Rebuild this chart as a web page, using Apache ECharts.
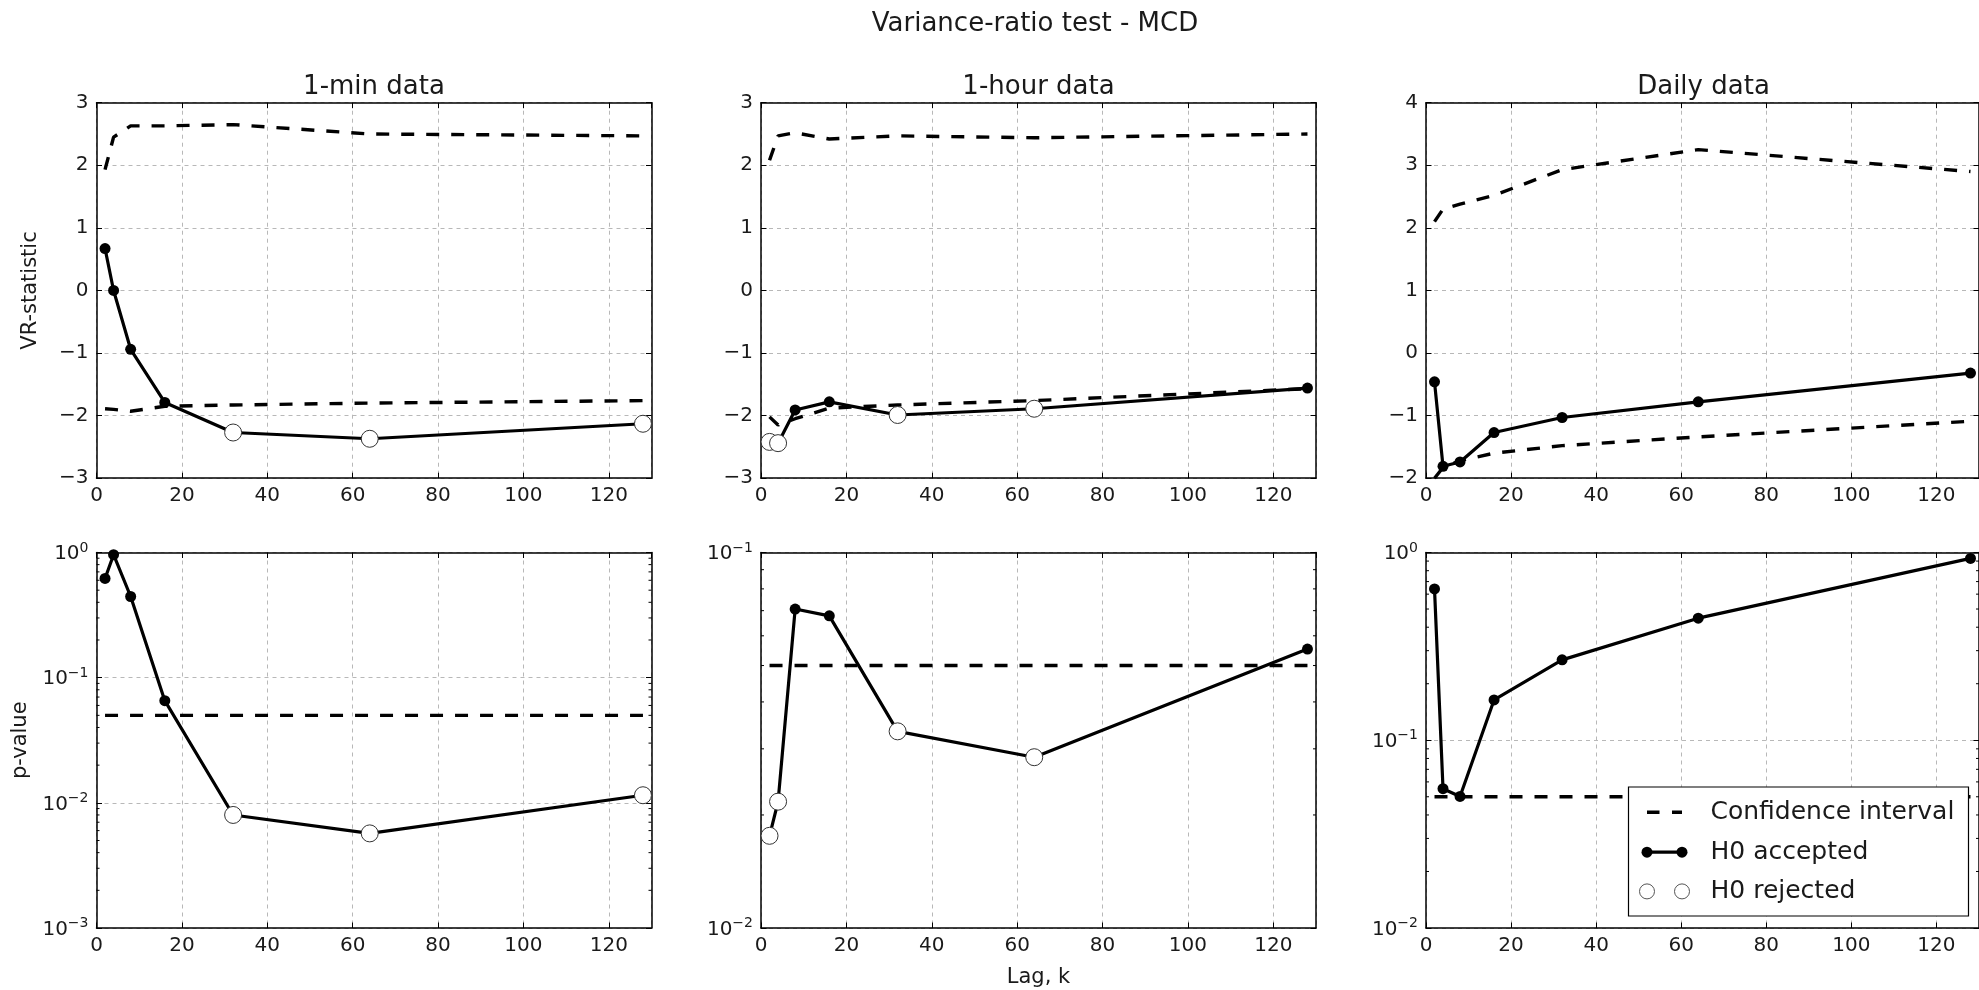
<!DOCTYPE html>
<html>
<head>
<meta charset="utf-8">
<script src="https://cdn.jsdelivr.net/npm/echarts@6/dist/echarts.min.js"></script>
<style>
html,body{margin:0;padding:0;background:#fff;}
#chart{width:1979px;height:990px;}
</style>
</head>
<body>
<div id="chart"></div>
<script>
// ---------------- data ----------------
const suptitle = 'Variance-ratio test - MCD';
const panelTitles = ['1-min data', '1-hour data', 'Daily data'];
const lags = [2, 4, 8, 16, 32, 64, 128];

// VR statistic
const vr1Min  = [0.67, 0.0, -0.94, -1.79, -2.27, -2.37, -2.13];
const vr1Hour = [-2.42, -2.44, -1.91, -1.78, -1.99, -1.89, -1.56];
const vrDaily = [-0.46, -1.81, -1.74, -1.27, -1.03, -0.78, -0.32];

// confidence interval bounds of the VR statistic
const ciUp1Min  = [1.93, 2.45, 2.63, 2.63, 2.65, 2.50, 2.47];
const ciLo1Min  = [-1.89, -1.90, -1.93, -1.85, -1.83, -1.80, -1.76];
const ciUp1Hour = [2.08, 2.47, 2.52, 2.42, 2.47, 2.44, 2.50];
const ciLo1Hour = [-2.02, -2.15, -2.05, -1.88, -1.83, -1.76, -1.57];
const ciUpDaily = [2.10, 2.30, 2.38, 2.52, 2.93, 3.25, 2.90];
const ciLoDaily = [-2.00, -1.83, -1.72, -1.60, -1.48, -1.34, -1.09];

// p-values
const p1Min  = [0.62, 0.96, 0.445, 0.0655, 0.0080, 0.0057, 0.0115];
const p1Hour = [0.0176, 0.0217, 0.0707, 0.0678, 0.0334, 0.0285, 0.0553];
const pDaily = [0.64, 0.0552, 0.0502, 0.164, 0.268, 0.447, 0.93];
const pThreshold = 0.05;

// H0 accepted (filled marker) / rejected (open marker)
const accepted1Min  = [true, true, true, true, false, false, false];
const accepted1Hour = [false, false, true, true, false, false, true];
const acceptedDaily = [true, true, true, true, true, true, true];

// axes
const xMin = 0, xMax = 130, xInterval = 20;
const vrRanges = [[-3, 3], [-3, 3], [-2, 4]];
const pRanges = [[0.001, 1], [0.01, 0.1], [0.01, 1]];
const minorMantissas = [2, 3, 4, 5, 6, 7, 8, 9];

const yNameTop = 'VR-statistic';
const yNameBottom = 'p-value';
const xName = 'Lag, k';
const legendLabels = ['Confidence interval', 'H0 accepted', 'H0 rejected'];

// ---------------- layout & style ----------------
const FONT = 'DejaVu Sans';
const TXT = '#1a1a1a';
const colLeft = [96.5, 761, 1426];
const rowTop = [102.7, 552.5];
const PW = 555, PH = 375.5;
const gridLine = { color: '#b8b8b8', width: 1, type: [4, 4] };
const spine = { color: '#000', width: 1.5 };
const tickLine = { color: '#000', width: 1 };
const dashCI = [13, 12];
const SOLID_W = 3.2, DASH_W = 3.4;

const panels = [
  { vr: vr1Min, up: ciUp1Min, lo: ciLo1Min, p: p1Min, acc: accepted1Min },
  { vr: vr1Hour, up: ciUp1Hour, lo: ciLo1Hour, p: p1Hour, acc: accepted1Hour },
  { vr: vrDaily, up: ciUpDaily, lo: ciLoDaily, p: pDaily, acc: acceptedDaily }
];

const grids = [], xAxes = [], yAxes = [], series = [];

function sup(v) {
  const e = Math.round(Math.log10(v));
  return '{b|10}{s|' + (e < 0 ? '\u2212' : '') + Math.abs(e) + '}';
}
function minusFmt(v) {
  return (v < 0 ? '\u2212' : '') + Math.abs(v);
}

function addAxes(row, col, isLog, yRange) {
  const gi = grids.length;
  grids.push({ left: colLeft[col], top: rowTop[row], width: PW, height: PH });
  const xi = xAxes.length;
  const isLagAxis = (row === 1 && col === 1);
  xAxes.push({
    type: 'value', gridIndex: gi, position: 'bottom', min: xMin, max: xMax, interval: xInterval,
    axisLine: { show: true, onZero: false, lineStyle: spine },
    axisTick: { show: true, inside: true, length: 5.5, lineStyle: tickLine },
    axisLabel: { show: true, margin: 8, fontSize: 20, fontFamily: FONT, color: TXT, showMaxLabel: false },
    splitLine: { show: true, lineStyle: gridLine },
    name: isLagAxis ? xName : '', nameLocation: 'middle', nameGap: 39,
    nameTextStyle: { fontSize: 21, fontFamily: FONT, color: TXT }
  });
  xAxes.push({
    type: 'value', gridIndex: gi, position: 'top', min: xMin, max: xMax, interval: xInterval,
    axisLine: { show: true, onZero: false, lineStyle: spine },
    axisTick: { show: true, inside: true, length: 5.5, lineStyle: tickLine },
    axisLabel: { show: false }, splitLine: { show: false }
  });
  const yi = yAxes.length;
  const yBase = {
    gridIndex: gi, min: yRange[0], max: yRange[1],
    type: isLog ? 'log' : 'value'
  };
  if (isLog) { yBase.logBase = 10; yBase.interval = 1; } else { yBase.interval = 1; }
  const yName = col === 0 ? (row === 0 ? yNameTop : yNameBottom) : '';
  yAxes.push(Object.assign({}, yBase, {
    position: 'left',
    axisLine: { show: true, onZero: false, lineStyle: spine },
    axisTick: { show: true, inside: true, length: 5.5, lineStyle: tickLine },
    axisLabel: isLog ? {
      show: true, margin: 8, color: TXT, fontFamily: FONT, formatter: sup,
      rich: {
        b: { fontSize: 20, fontFamily: FONT, color: TXT, verticalAlign: 'bottom' },
        s: { fontSize: 14, fontFamily: FONT, color: TXT, verticalAlign: 'top', padding: [0, 0, 9, 0] }
      }
    } : { show: true, margin: 8, fontSize: 20, fontFamily: FONT, color: TXT, formatter: minusFmt },
    splitLine: { show: true, lineStyle: gridLine },
    name: yName, nameLocation: 'middle', nameGap: row === 0 ? 55 : 65.5,
    nameTextStyle: { fontSize: 21, fontFamily: FONT, color: TXT }
  }));
  yAxes.push(Object.assign({}, yBase, {
    position: 'right',
    axisLine: { show: true, onZero: false, lineStyle: spine },
    axisTick: { show: true, inside: true, length: 5.5, lineStyle: tickLine },
    axisLabel: { show: false }, splitLine: { show: false }
  }));
  return { xi, yi };
}

function pointData(vals, acc) {
  return lags.map((k, i) => acc[i]
    ? { value: [k, vals[i]] }
    : { value: [k, vals[i]], symbolSize: 17, itemStyle: { color: '#fff', borderColor: '#333', borderWidth: 1 } });
}

function dashedSeries(xi, yi, data) {
  return {
    type: 'line', xAxisIndex: xi, yAxisIndex: yi, data, symbol: 'none', silent: true, z: 2,
    lineStyle: { color: '#000', width: DASH_W, type: dashCI, cap: 'butt' }
  };
}

function mainSeries(xi, yi, vals, acc) {
  return {
    type: 'line', xAxisIndex: xi, yAxisIndex: yi, data: pointData(vals, acc), silent: true, z: 3,
    symbol: 'circle', symbolSize: 11, showAllSymbol: true,
    itemStyle: { color: '#000' },
    lineStyle: { color: '#000', width: SOLID_W }
  };
}

function minorTickSeries(xi, yi, range) {
  const vals = [];
  const e0 = Math.round(Math.log10(range[0])), e1 = Math.round(Math.log10(range[1]));
  for (let e = e0; e < e1; e++) {
    minorMantissas.forEach(m => vals.push(Number((m * Math.pow(10, e)).toPrecision(6))));
  }
  return {
    type: 'custom', xAxisIndex: xi, yAxisIndex: yi, silent: true, z: 6, clip: false,
    data: vals.map(v => [xMin, v]),
    renderItem: (params, api) => {
      const v = api.value(1);
      const l = api.coord([xMin, v]);
      const r = api.coord([xMax, v]);
      return {
        type: 'group', children: [
          { type: 'line', shape: { x1: l[0], y1: l[1], x2: l[0] + 3, y2: l[1] }, style: { stroke: '#000', lineWidth: 1 } },
          { type: 'line', shape: { x1: r[0] - 3, y1: r[1], x2: r[0], y2: r[1] }, style: { stroke: '#000', lineWidth: 1 } }
        ]
      };
    }
  };
}

panels.forEach((pn, col) => {
  const top = addAxes(0, col, false, vrRanges[col]);
  series.push(dashedSeries(top.xi, top.yi, lags.map((k, i) => [k, pn.up[i]])));
  series.push(dashedSeries(top.xi, top.yi, lags.map((k, i) => [k, pn.lo[i]])));
  series.push(mainSeries(top.xi, top.yi, pn.vr, pn.acc));

  const bot = addAxes(1, col, true, pRanges[col]);
  series.push(dashedSeries(bot.xi, bot.yi, lags.map(k => [k, pThreshold])));
  series.push(mainSeries(bot.xi, bot.yi, pn.p, pn.acc));
  series.push(minorTickSeries(bot.xi, bot.yi, pRanges[col]));
});

// ---------------- titles and legend (graphic) ----------------
const graphic = [];
graphic.push({ type: 'text', x: 1035, y: 24, z: 100, silent: true,
  style: { text: suptitle, fontSize: 26, fontFamily: FONT, fill: TXT, align: 'center', verticalAlign: 'middle' } });
panelTitles.forEach((t, col) => {
  graphic.push({ type: 'text', x: colLeft[col] + PW / 2, y: 87.3, z: 100, silent: true,
    style: { text: t, fontSize: 26, fontFamily: FONT, fill: TXT, align: 'center', verticalAlign: 'middle' } });
});

const lg = { x: 1628.5, y: 787, w: 340, h: 129 };
const rowsY = [812.2, 852.2, 891.4];
const hx0 = 1647, hx1 = 1682, tx = 1710.5;
graphic.push({ type: 'rect', z: 100, silent: true,
  shape: { x: lg.x, y: lg.y, width: lg.w, height: lg.h },
  style: { fill: '#fff', stroke: '#000', lineWidth: 1.2 } });
graphic.push({ type: 'line', z: 101, silent: true,
  shape: { x1: hx0, y1: rowsY[0], x2: hx1, y2: rowsY[0] },
  style: { stroke: '#000', lineWidth: DASH_W, lineDash: [12.5, 12.5] } });
graphic.push({ type: 'line', z: 101, silent: true,
  shape: { x1: hx0, y1: rowsY[1], x2: hx1, y2: rowsY[1] },
  style: { stroke: '#000', lineWidth: SOLID_W } });
[hx0, hx1].forEach(cx => {
  graphic.push({ type: 'circle', z: 102, silent: true, shape: { cx, cy: rowsY[1], r: 5.5 }, style: { fill: '#000' } });
  graphic.push({ type: 'circle', z: 102, silent: true, shape: { cx, cy: rowsY[2], r: 7.5 }, style: { fill: '#fff', stroke: '#555', lineWidth: 1 } });
});
legendLabels.forEach((t, i) => {
  graphic.push({ type: 'text', x: tx, y: rowsY[i] + 0.4, z: 101, silent: true,
    style: { text: t, fontSize: 25, fontFamily: FONT, fill: TXT, align: 'left', verticalAlign: 'middle' } });
});

const chart = echarts.init(document.getElementById('chart'), null, { renderer: 'canvas' });
chart.setOption({
  animation: false,
  backgroundColor: '#fff',
  textStyle: { fontFamily: FONT },
  grid: grids,
  xAxis: xAxes,
  yAxis: yAxes,
  series: series,
  graphic: graphic
});
</script>
</body>
</html>
